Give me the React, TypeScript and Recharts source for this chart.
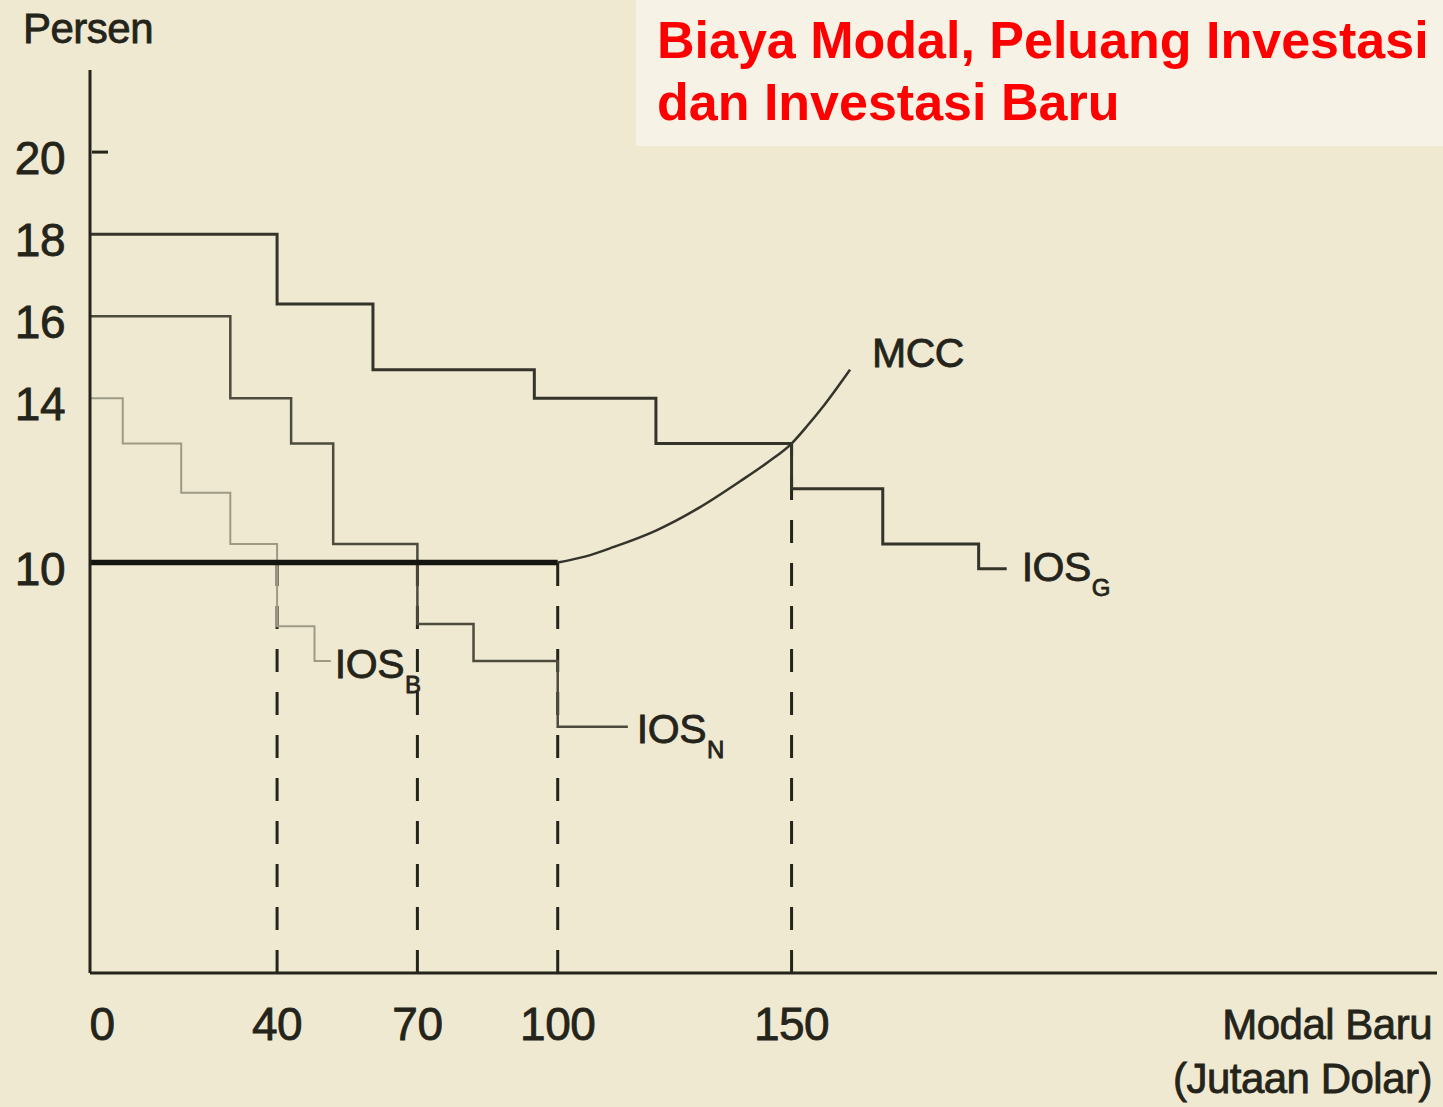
import React from 'react';
import { LineChart, Line, XAxis, YAxis, ReferenceLine, Label } from 'recharts';

const INK = '#24241a';
const FONT = "'Liberation Sans', Arial, Helvetica, sans-serif";

// sumbu: modal baru (juta dolar) dan persen
const xTicks = [0, 40, 70, 100, 150];
const yTicks = [10, 14, 16, 18, 20];

// titik awal tiap anak tangga IOS (x = modal baru, y = persen)
const iosG = [
  { x: 0, y: 18 },
  { x: 40, y: 16.3 },
  { x: 60.5, y: 14.7 },
  { x: 95, y: 14 },
  { x: 121, y: 12.9 },
  { x: 150, y: 11.8 },
  { x: 169.5, y: 10.45 },
  { x: 190, y: 9.85 },
  { x: 196, y: 9.85 },
];

const iosN = [
  { x: 0, y: 16 },
  { x: 30, y: 14 },
  { x: 43, y: 12.9 },
  { x: 52, y: 10.45 },
  { x: 70, y: 8.5 },
  { x: 82, y: 7.6 },
  { x: 100, y: 6 },
  { x: 115, y: 6 },
];

const iosB = [
  { x: 0, y: 14 },
  { x: 7, y: 12.9 },
  { x: 19.5, y: 11.7 },
  { x: 30, y: 10.45 },
  { x: 40, y: 8.45 },
  { x: 48, y: 7.6 },
  { x: 51.5, y: 7.6 },
];

// MCC: datar 10% sampai 100, lalu naik
const mccFlat = [
  { x: 0, y: 10 },
  { x: 100, y: 10 },
];

const mccCurve = [
  { x: 100, y: 10 },
  { x: 106, y: 10.15 },
  { x: 112, y: 10.38 },
  { x: 121, y: 10.78 },
  { x: 130, y: 11.32 },
  { x: 139, y: 11.98 },
  { x: 145, y: 12.45 },
  { x: 150, y: 12.9 },
  { x: 153.5, y: 13.35 },
  { x: 157, y: 13.84 },
  { x: 162.5, y: 14.7 },
];

// garis putus-putus ke sumbu x
const dropX = [40, 70, 100, 150];
const dropTop = [10, 10, 10, 12.9];

const textStyle = {
  fontFamily: FONT,
  fill: INK,
  stroke: INK,
  strokeWidth: 0.8,
  letterSpacing: -0.5,
};

const XTick = (props: any) => {
  const { x, y, payload } = props;
  return (
    <text x={x + (payload.value === 0 ? 12 : 0)} y={y + 67} textAnchor="middle" fontSize={46} style={textStyle}>
      {payload.value}
    </text>
  );
};

const YTick = (props: any) => {
  const { x, y, payload } = props;
  return (
    <g>
      <text x={x - 25} y={y + 22} textAnchor="end" fontSize={46} style={textStyle}>
        {payload.value}
      </text>
      {payload.value === 20 && <line x1={x + 2} x2={x + 18} y1={y} y2={y} stroke={INK} strokeWidth={3} />}
    </g>
  );
};

const PersenLabel = (props: any) => {
  const vb = props.viewBox;
  return (
    <text x={vb.x + 13} y={vb.y - 27} fontSize={42} style={textStyle}>
      Persen
    </text>
  );
};

const ModalLabel = (props: any) => {
  const vb = props.viewBox;
  const right = vb.x + vb.width - 5;
  return (
    <g>
      <text x={right} y={vb.y + 66} textAnchor="end" fontSize={42} style={textStyle}>
        Modal Baru
      </text>
      <text x={right} y={vb.y + 120} textAnchor="end" fontSize={42} style={textStyle}>
        (Jutaan Dolar)
      </text>
    </g>
  );
};

const endLabel = (name: string, sub: string, last: number, dx: number, dy: number) => (p: any) => {
  if (p.index !== last) return null;
  return (
    <text x={p.x + dx} y={p.y + dy} fontSize={41} style={textStyle}>
      {name}
      {sub && (
        <tspan dx={1} dy={15} fontSize={24}>
          {sub}
        </tspan>
      )}
    </text>
  );
};

export default function App() {
  return (
    <div
      style={{
        position: 'absolute',
        left: 0,
        top: 0,
        width: 1443,
        height: 1107,
        background: '#efe9d2',
        overflow: 'hidden',
      }}
    >
      <LineChart width={1443} height={1107} margin={{ top: 70, right: 6, bottom: 74, left: 10 }}>
        <XAxis
          dataKey="x"
          type="number"
          domain={[0, 288]}
          ticks={xTicks}
          interval={0}
          allowDataOverflow
          height={60}
          tickSize={0}
          tickMargin={0}
          tickLine={false}
          axisLine={{ stroke: INK, strokeWidth: 3 }}
          tick={<XTick />}
        >
          <Label content={<ModalLabel />} />
        </XAxis>
        <YAxis
          type="number"
          domain={[0, 22]}
          ticks={yTicks}
          interval={0}
          allowDataOverflow
          width={80}
          tickSize={0}
          tickMargin={0}
          tickLine={false}
          axisLine={{ stroke: INK, strokeWidth: 3 }}
          tick={<YTick />}
        >
          <Label content={<PersenLabel />} />
        </YAxis>

        {dropX.map((x, i) => (
          <ReferenceLine
            key={x}
            segment={[
              { x, y: 0 },
              { x, y: dropTop[i] },
            ]}
            stroke={INK}
            strokeWidth={3}
            strokeDasharray="23 20"
          />
        ))}

        <Line
          data={iosB}
          dataKey="y"
          type="stepAfter"
          stroke="#9d9b86"
          strokeWidth={2}
          dot={false}
          activeDot={false}
          isAnimationActive={false}
          label={endLabel('IOS', 'B', iosB.length - 1, 4, 17)}
        />
        <Line
          data={iosN}
          dataKey="y"
          type="stepAfter"
          stroke="#4d4b3c"
          strokeWidth={2.5}
          dot={false}
          activeDot={false}
          isAnimationActive={false}
          label={endLabel('IOS', 'N', iosN.length - 1, 9, 16)}
        />
        <Line
          data={iosG}
          dataKey="y"
          type="stepAfter"
          stroke="#34342a"
          strokeWidth={3}
          dot={false}
          activeDot={false}
          isAnimationActive={false}
          label={endLabel('IOS', 'G', iosG.length - 1, 15, 12)}
        />
        <Line
          data={mccCurve}
          dataKey="y"
          type="monotone"
          stroke="#34342a"
          strokeWidth={2.5}
          dot={false}
          activeDot={false}
          isAnimationActive={false}
          label={endLabel('MCC', '', mccCurve.length - 1, 22, -3)}
        />
        <Line
          data={mccFlat}
          dataKey="y"
          type="linear"
          stroke="#141410"
          strokeWidth={5.5}
          dot={false}
          activeDot={false}
          isAnimationActive={false}
        />
      </LineChart>

      <div
        style={{
          position: 'absolute',
          left: 636,
          top: 0,
          width: 807,
          height: 146,
          background: '#f6f3e6',
        }}
      >
        <div
          style={{
            paddingLeft: 21,
            paddingTop: 9,
            fontFamily: FONT,
            fontWeight: 'bold',
            fontSize: 52,
            lineHeight: '62px',
            color: '#ff0000',
            whiteSpace: 'nowrap',
          }}
        >
          Biaya Modal, Peluang Investasi
          <br />
          dan Investasi Baru
        </div>
      </div>
    </div>
  );
}
